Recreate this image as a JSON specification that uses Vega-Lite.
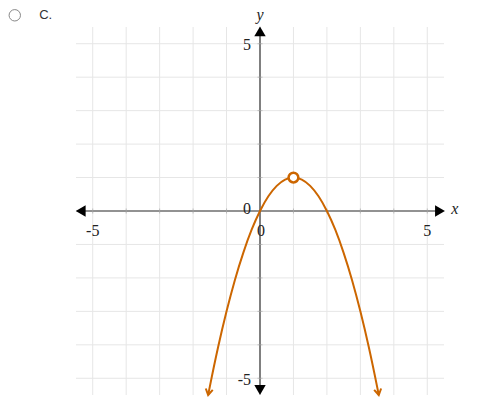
{
  "$schema": "https://vega.github.io/schema/vega-lite/v6.json",
  "autosize": "none",
  "padding": {"left": 76, "top": 27, "right": 56, "bottom": 22},
  "width": 368,
  "height": 368,
  "background": "white",
  "config": {"view": {"stroke": null}},
  "datasets": {
    "curve": [
      {"x": -1.55, "y": -5.5},
      {"x": -1.5, "y": -5.25},
      {"x": -1.25, "y": -4.06},
      {"x": -1.0, "y": -3.0},
      {"x": -0.75, "y": -2.06},
      {"x": -0.5, "y": -1.25},
      {"x": -0.25, "y": -0.56},
      {"x": 0.0, "y": 0.0},
      {"x": 0.25, "y": 0.44},
      {"x": 0.5, "y": 0.75},
      {"x": 0.75, "y": 0.94},
      {"x": 1.0, "y": 1.0},
      {"x": 1.25, "y": 0.94},
      {"x": 1.5, "y": 0.75},
      {"x": 1.75, "y": 0.44},
      {"x": 2.0, "y": 0.0},
      {"x": 2.25, "y": -0.56},
      {"x": 2.5, "y": -1.25},
      {"x": 2.75, "y": -2.06},
      {"x": 3.0, "y": -3.0},
      {"x": 3.25, "y": -4.06},
      {"x": 3.5, "y": -5.25},
      {"x": 3.55, "y": -5.5}
    ],
    "grid": [
      {"v": -5, "lo": -5.5, "hi": 5.5}, {"v": -4, "lo": -5.5, "hi": 5.5},
      {"v": -3, "lo": -5.5, "hi": 5.5}, {"v": -2, "lo": -5.5, "hi": 5.5},
      {"v": -1, "lo": -5.5, "hi": 5.5}, {"v": 0, "lo": -5.5, "hi": 5.5},
      {"v": 1, "lo": -5.5, "hi": 5.5}, {"v": 2, "lo": -5.5, "hi": 5.5},
      {"v": 3, "lo": -5.5, "hi": 5.5}, {"v": 4, "lo": -5.5, "hi": 5.5},
      {"v": 5, "lo": -5.5, "hi": 5.5}
    ],
    "ticks": [
      {"v": -5}, {"v": -4}, {"v": -3}, {"v": -2}, {"v": -1},
      {"v": 1}, {"v": 2}, {"v": 3}, {"v": 4}, {"v": 5}
    ],
    "axisArrows": [
      {"x": -5.36, "y": 0, "shape": "triangle-left"},
      {"x": 5.38, "y": 0, "shape": "triangle-right"},
      {"x": 0, "y": 5.37, "shape": "triangle-up"},
      {"x": 0, "y": -5.35, "shape": "triangle-down"}
    ],
    "curveArrows": [
      {"x": -1.55, "y": -5.5, "angle": 11},
      {"x": 3.55, "y": -5.5, "angle": -11}
    ],
    "xLabels": [
      {"x": -5, "y": -0.6, "text": "-5"},
      {"x": 0.03, "y": -0.6, "text": "0"},
      {"x": 5, "y": -0.6, "text": "5"}
    ],
    "yLabels": [
      {"x": -0.27, "y": 4.95, "text": "5"},
      {"x": -0.27, "y": 0.05, "text": "0"},
      {"x": -0.27, "y": -5.05, "text": "-5"}
    ],
    "axisTitles": [
      {"x": 0, "y": 5.85, "text": "y"},
      {"x": 5.82, "y": 0.05, "text": "x"}
    ]
  },
  "encoding": {
    "x": {"type": "quantitative", "scale": {"domain": [-5.5, 5.5], "nice": false, "zero": false}, "axis": null},
    "y": {"type": "quantitative", "scale": {"domain": [-5.5, 5.5], "nice": false, "zero": false}, "axis": null}
  },
  "layer": [
    {
      "data": {"name": "grid"},
      "mark": {"type": "rule", "color": "#e6e6e6", "strokeWidth": 1},
      "encoding": {
        "x": {"field": "v", "type": "quantitative"},
        "y": {"field": "lo", "type": "quantitative"},
        "y2": {"field": "hi"}
      }
    },
    {
      "data": {"name": "grid"},
      "mark": {"type": "rule", "color": "#e6e6e6", "strokeWidth": 1},
      "encoding": {
        "y": {"field": "v", "type": "quantitative"},
        "x": {"field": "lo", "type": "quantitative"},
        "x2": {"field": "hi"}
      }
    },
    {
      "data": {"values": [{"a": -5.3, "b": 5.3, "z": 0}]},
      "mark": {"type": "rule", "color": "#333333", "strokeWidth": 1.2},
      "encoding": {
        "x": {"field": "a", "type": "quantitative"},
        "x2": {"field": "b"},
        "y": {"field": "z", "type": "quantitative"}
      }
    },
    {
      "data": {"values": [{"a": -5.3, "b": 5.3, "z": 0}]},
      "mark": {"type": "rule", "color": "#333333", "strokeWidth": 1.2},
      "encoding": {
        "y": {"field": "a", "type": "quantitative"},
        "y2": {"field": "b"},
        "x": {"field": "z", "type": "quantitative"}
      }
    },
    {
      "data": {"name": "ticks"},
      "mark": {"type": "tick", "orient": "vertical", "color": "#aaaaaa", "size": 5, "thickness": 1},
      "encoding": {
        "x": {"field": "v", "type": "quantitative"},
        "y": {"datum": 0, "type": "quantitative"}
      }
    },
    {
      "data": {"name": "ticks"},
      "mark": {"type": "tick", "orient": "horizontal", "color": "#aaaaaa", "size": 5, "thickness": 1},
      "encoding": {
        "y": {"field": "v", "type": "quantitative"},
        "x": {"datum": 0, "type": "quantitative"}
      }
    },
    {
      "data": {"name": "axisArrows"},
      "mark": {"type": "point", "filled": true, "color": "black", "size": 130, "opacity": 1},
      "encoding": {
        "x": {"field": "x", "type": "quantitative"},
        "y": {"field": "y", "type": "quantitative"},
        "shape": {"field": "shape", "type": "nominal", "scale": null, "legend": null}
      }
    },
    {
      "data": {"name": "xLabels"},
      "mark": {"type": "text", "font": "Liberation Serif", "fontSize": 16, "color": "#222222", "baseline": "middle", "align": "center"},
      "encoding": {
        "x": {"field": "x", "type": "quantitative"},
        "y": {"field": "y", "type": "quantitative"},
        "text": {"field": "text"}
      }
    },
    {
      "data": {"name": "yLabels"},
      "mark": {"type": "text", "font": "Liberation Serif", "fontSize": 16, "color": "#222222", "baseline": "middle", "align": "right"},
      "encoding": {
        "x": {"field": "x", "type": "quantitative"},
        "y": {"field": "y", "type": "quantitative"},
        "text": {"field": "text"}
      }
    },
    {
      "data": {"name": "axisTitles"},
      "mark": {"type": "text", "font": "Liberation Serif", "fontStyle": "italic", "fontSize": 16, "color": "#222222", "baseline": "middle", "align": "center", "clip": false},
      "encoding": {
        "x": {"field": "x", "type": "quantitative"},
        "y": {"field": "y", "type": "quantitative"},
        "text": {"field": "text"}
      }
    },
    {
      "data": {"name": "curve"},
      "mark": {"type": "line", "color": "#cc6600", "strokeWidth": 2, "interpolate": "monotone", "clip": false},
      "encoding": {
        "x": {"field": "x", "type": "quantitative"},
        "y": {"field": "y", "type": "quantitative"}
      }
    },
    {
      "data": {"name": "curveArrows"},
      "mark": {"type": "point", "shape": "M -0.6 -1 L 0 0 L 0.6 -1", "filled": false, "stroke": "#cc6600", "strokeWidth": 2, "size": 140, "opacity": 1, "clip": false},
      "encoding": {
        "x": {"field": "x", "type": "quantitative"},
        "y": {"field": "y", "type": "quantitative"},
        "angle": {"field": "angle", "type": "quantitative", "scale": null}
      }
    },
    {
      "data": {"values": [{"x": 1, "y": 1}]},
      "mark": {"type": "point", "shape": "circle", "filled": true, "fill": "white", "stroke": "#cc6600", "strokeWidth": 2.5, "size": 95, "opacity": 1},
      "encoding": {
        "x": {"field": "x", "type": "quantitative"},
        "y": {"field": "y", "type": "quantitative"}
      }
    },
    {
      "data": {"values": [{"x": -7.33, "y": 5.85}]},
      "mark": {"type": "point", "shape": "circle", "filled": false, "stroke": "#888888", "strokeWidth": 1, "size": 130, "opacity": 1, "clip": false},
      "encoding": {
        "x": {"field": "x", "type": "quantitative"},
        "y": {"field": "y", "type": "quantitative"}
      }
    },
    {
      "data": {"values": [{"x": -6.6, "y": 5.85, "text": "C."}]},
      "mark": {"type": "text", "font": "Liberation Sans", "fontSize": 13, "color": "#333333", "align": "left", "baseline": "middle", "clip": false},
      "encoding": {
        "x": {"field": "x", "type": "quantitative"},
        "y": {"field": "y", "type": "quantitative"},
        "text": {"field": "text"}
      }
    }
  ]
}
